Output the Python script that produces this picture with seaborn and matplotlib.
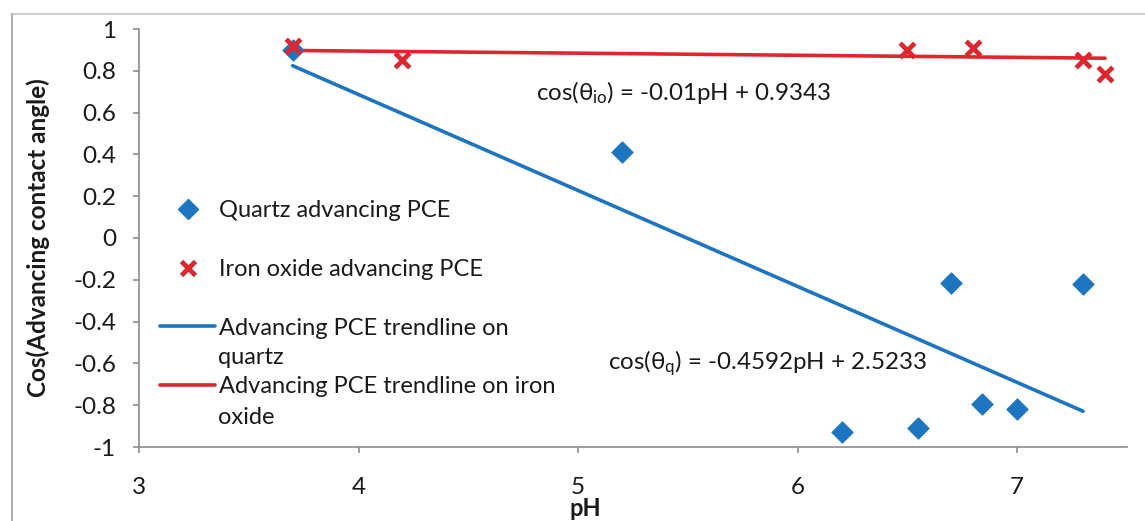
import matplotlib
matplotlib.use("Agg")
import matplotlib.pyplot as plt
from matplotlib.lines import Line2D
import numpy as np
import pandas as pd
import seaborn as sns

# Measured contact-angle cosines versus pH
quartz_ph = [3.7, 5.2, 6.2, 6.55, 6.7, 6.84, 7.0, 7.3]
quartz_cos = [0.90, 0.41, -0.93, -0.91, -0.215, -0.795, -0.82, -0.22]

iron_ph = [3.7, 4.2, 6.5, 6.8, 7.3, 7.4]
iron_cos = [0.92, 0.85, 0.90, 0.91, 0.85, 0.785]

# Linear trendline coefficients (slope, intercept)
quartz_fit = (-0.4592, 2.5233)
iron_fit = (-0.01, 0.9343)

x_ticks = [3, 4, 5, 6, 7]
y_ticks = [1, 0.8, 0.6, 0.4, 0.2, 0, -0.2, -0.4, -0.6, -0.8, -1]

BLUE = "#1b75c0"
RED = "#e0262c"
AXIS_GREY = "#8c8c8c"
TEXT = "#1a1a1a"
W, H = 1145, 521

sns.set_theme(style="white")
plt.rcParams["font.family"] = ["Lato", "DejaVu Sans"]
plt.rcParams["mathtext.fontset"] = "custom"
plt.rcParams["mathtext.rm"] = "Lato"
plt.rcParams["mathtext.it"] = "Lato:italic"

fig = plt.figure(figsize=(W / 100, H / 100), dpi=100)
ax = fig.add_axes([139 / W, 74 / H, 988 / W, 418 / H])

quartz = pd.DataFrame({"pH": quartz_ph, "cos": quartz_cos})
iron = pd.DataFrame({"pH": iron_ph, "cos": iron_cos})


def trend(df, fit):
    xs = np.array([df["pH"].min(), df["pH"].max()])
    return pd.DataFrame({"pH": xs, "cos": fit[0] * xs + fit[1]})


sns.lineplot(data=trend(quartz, quartz_fit), x="pH", y="cos", color=BLUE,
             lw=2.6, ax=ax, zorder=2)
sns.lineplot(data=trend(iron, iron_fit), x="pH", y="cos", color=RED,
             lw=2.6, ax=ax, zorder=2)
sns.scatterplot(data=quartz, x="pH", y="cos", marker="D", s=115, color=BLUE,
                edgecolor=BLUE, ax=ax, zorder=3)
sns.scatterplot(data=iron, x="pH", y="cos", marker="x", s=110, color=RED,
                linewidth=3.4, ax=ax, zorder=4)

ax.set_xlim(3, 7.5)
ax.set_ylim(-1, 1)
ax.set_xticks(x_ticks)
ax.set_xticklabels([str(t) for t in x_ticks])
ax.set_yticks(y_ticks)
ax.set_yticklabels([f"{t:g}" for t in y_ticks])

for side in ("top", "right"):
    ax.spines[side].set_visible(False)
for side in ("left", "bottom"):
    ax.spines[side].set_color(AXIS_GREY)
    ax.spines[side].set_linewidth(1.2)
ax.tick_params(axis="both", which="major", direction="out", length=4.5,
               width=1.2, color=AXIS_GREY, labelsize=17.5, labelcolor=TEXT)
ax.tick_params(axis="y", pad=12)
ax.tick_params(axis="x", pad=17)
ax.tick_params(left=True, bottom=True)

ax.set_xlabel("pH", fontsize=17, fontweight="bold", color=TEXT)
ax.set_ylabel("Cos(Advancing contact angle)", fontsize=17.5,
              fontweight="bold", color=TEXT)
ax.xaxis.label.set_va("center")
ax.xaxis.set_label_coords(0.452, -(508 - 447) / 418)
ax.yaxis.label.set_va("center")
ax.yaxis.set_label_coords(-(139 - 38) / 988, (447 - 238) / 418)

ax.text(4.81, 0.694, r"cos(θ$_{\mathrm{io}}$) = -0.01pH + 0.9343",
        fontsize=17.4, color=TEXT, va="center", ha="left")
ax.text(5.135, -0.598, r"cos(θ$_{\mathrm{q}}$) = -0.4592pH + 2.5233",
        fontsize=17.4, color=TEXT, va="center", ha="left")

handles = [
    Line2D([], [], ls="none", marker="D", ms=10, color=BLUE),
    Line2D([], [], ls="none", marker="x", ms=10, mew=3.4, color=RED),
    Line2D([], [], color=BLUE, lw=2.6),
    Line2D([], [], color=RED, lw=2.6),
]
labels = [
    "Quartz advancing PCE",
    "Iron oxide advancing PCE",
    "Advancing PCE trendline on",
    "Advancing PCE trendline on iron",
]
leg = ax.legend(handles, labels, loc="upper left",
                bbox_to_anchor=((160 - 139) / 988, (447 - 200) / 418),
                frameon=False, fontsize=17, handlelength=2.35,
                handletextpad=0.15, labelspacing=1.6, borderaxespad=0,
                borderpad=0)
for t in leg.get_texts():
    t.set_color(TEXT)

# wrapped continuation of the two trendline entries
for word, ypix in (("quartz", 358), ("oxide", 418)):
    fig.text(218 / W, 1 - ypix / H, word, fontsize=17, color=TEXT,
             ha="left", va="center")

# outer chart-area edges
fig.add_artist(Line2D([12 / W, 1], [1 - 14 / H, 1 - 14 / H],
                      transform=fig.transFigure, color="#cfcfcf", lw=1.5))
fig.add_artist(Line2D([12 / W, 12 / W], [0, 1 - 14 / H],
                      transform=fig.transFigure, color="#b0b0b0", lw=1.5))

fig.savefig("out.png", dpi=100)
